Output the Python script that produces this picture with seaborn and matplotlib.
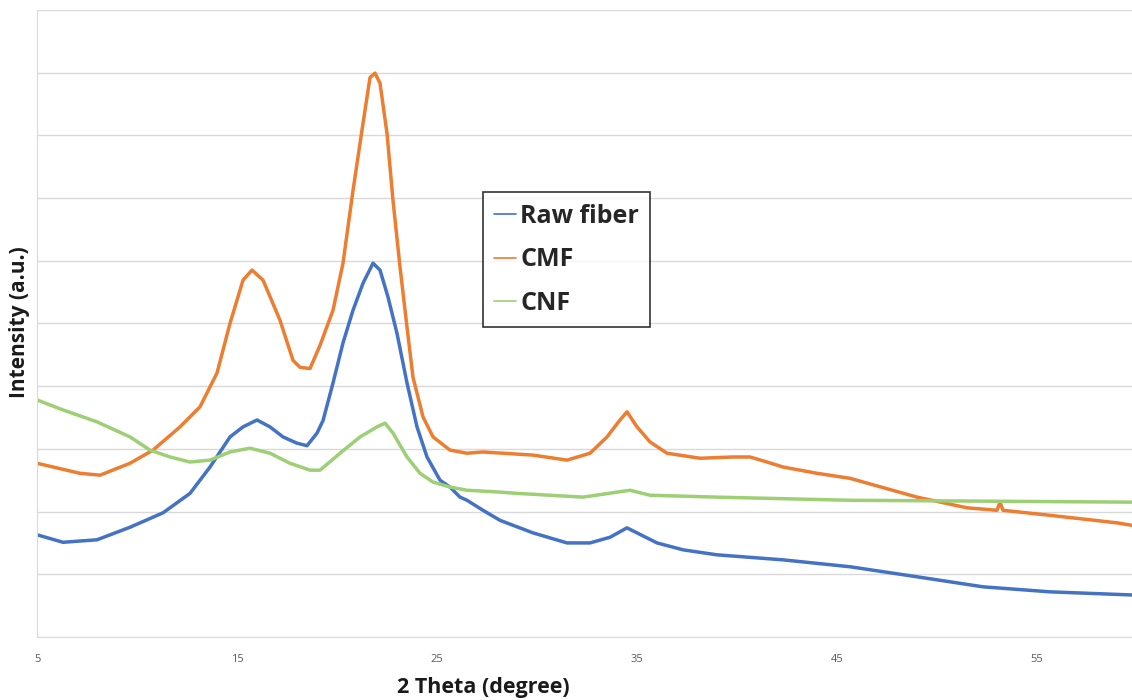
import pandas as pd
import seaborn as sns
import matplotlib.pyplot as plt

# Valores (2 theta en grados, intensidad en unidades arbitrarias)
theta_raw = [5, 6.3, 8, 9.65, 11.3, 12.65, 13.65, 14.65, 15.3, 16, 16.65, 17.3, 18, 18.5, 19,
             19.3, 19.8, 20.3, 20.8, 21.3, 21.8, 22.15, 22.55, 23, 23.5, 24, 24.5, 25.15,
             25.65, 26.15, 26.5, 27.3, 28.15, 29.8, 31.5, 32.65, 33.65, 34.5, 35, 36, 37.3,
             39, 42.3, 45.65, 49, 52.3, 55.65, 59.75]
raw_fiber = [1.63, 1.51, 1.55, 1.75, 1.98, 2.29, 2.71, 3.19, 3.35, 3.46, 3.35, 3.19, 3.09, 3.05, 3.25,
             3.45, 4.05, 4.69, 5.21, 5.64, 5.96, 5.85, 5.42, 4.84, 4.05, 3.35, 2.87, 2.5,
             2.39, 2.23, 2.18, 2.02, 1.86, 1.66, 1.5, 1.5, 1.59, 1.74, 1.66, 1.5, 1.39,
             1.31, 1.23, 1.12, 0.96, 0.8, 0.72, 0.67]

theta_cmf = [5, 7.15, 8.15, 9.65, 10.8, 12.15, 13.15, 14, 14.65, 15.3, 15.75, 16.3, 17.15, 17.8,
             18.15, 18.65, 19.15, 19.8, 20.3, 20.8, 21.3, 21.65, 21.9, 22.15, 22.5, 22.8, 23.15,
             23.5, 23.8, 24.3, 24.8, 25.65, 26.5, 27.3, 29.8, 31.5, 32.65, 33.5, 34.15, 34.5,
             35, 35.65, 36.5, 38.15, 39.8, 40.65, 41.5, 42.3, 44, 45.65, 49, 51.5, 53,
             53.15, 53.3, 55.65, 59, 59.75]
cmf = [2.77, 2.61, 2.58, 2.77, 2.98, 3.35, 3.67, 4.21, 5.0, 5.69, 5.85, 5.69, 5.05, 4.41,
       4.3, 4.28, 4.65, 5.21, 5.96, 7.12, 8.19, 8.92, 8.99, 8.83, 8.03, 6.96, 5.9,
       4.94, 4.14, 3.51, 3.19, 2.98, 2.93, 2.95, 2.9, 2.82, 2.93, 3.19, 3.46, 3.59,
       3.35, 3.11, 2.93, 2.85, 2.87, 2.87, 2.79, 2.71, 2.61, 2.53, 2.23, 2.06, 2.02,
       2.15, 2.02, 1.94, 1.82, 1.78]

theta_cnf = [5, 6.3, 8, 9.65, 10.65, 11.65, 12.65, 13.65, 14.65, 15.65, 16.65, 17.65, 18.65,
             19.15, 20.15, 21.15, 22, 22.4, 22.8, 23.5, 24.15, 24.8, 25.65, 26.5, 28.15, 29,
             32.3, 34.65, 35.65, 39, 45.65, 59.75]
cnf = [3.78, 3.62, 3.43, 3.19, 2.98, 2.87, 2.79, 2.82, 2.95, 3.01, 2.93, 2.77, 2.66,
       2.66, 2.93, 3.19, 3.35, 3.41, 3.25, 2.87, 2.61, 2.47, 2.39, 2.34, 2.31, 2.29,
       2.23, 2.34, 2.26, 2.23, 2.18, 2.15]

muestras = ["Raw fiber", "CMF", "CNF"]
colores = ["#4472C4", "#ED7D31", "#9DCF74"]

df = pd.concat([
    pd.DataFrame({"theta": theta_raw, "intensidad": raw_fiber, "muestra": "Raw fiber"}),
    pd.DataFrame({"theta": theta_cmf, "intensidad": cmf, "muestra": "CMF"}),
    pd.DataFrame({"theta": theta_cnf, "intensidad": cnf, "muestra": "CNF"}),
])

sns.set_style("white")
plt.rcParams["font.family"] = ["Open Sans", "DejaVu Sans"]

fig = plt.figure(figsize=(11.32, 7), dpi=100)
ax = fig.add_axes([0.0327, 0.09, 0.9673, 0.896])

sns.lineplot(data=df, x="theta", y="intensidad", hue="muestra", hue_order=muestras,
             palette=colores, linewidth=2.5, sort=False, ax=ax)

ax.set_xlim(5, 59.75)
ax.set_ylim(0, 10)
ax.set_xticks([5, 15, 25, 35, 45, 55])
ax.set_yticks(range(0, 11))
ax.set_yticklabels([])
ax.tick_params(axis="x", labelsize=8, colors="#595959", length=0, pad=12)
ax.tick_params(axis="y", length=0)
ax.grid(axis="y", color="#D9D9D9", linewidth=1)
ax.grid(axis="x", visible=False)
for lado in ["top", "right"]:
    ax.spines[lado].set_visible(False)
ax.spines["left"].set_color("#D9D9D9")
ax.spines["bottom"].set_color("#D9D9D9")

ax.set_xlabel("2 Theta (degree)", fontsize=15.5, fontweight="bold", color="#1a1a1a")
ax.xaxis.set_label_coords(0.408, -0.064)
ax.set_ylabel("Intensity (a.u.)", fontsize=15, fontweight="bold", color="#1a1a1a")
ax.yaxis.set_label_coords(-0.006, 0.502)

leg = ax.legend(loc="upper left", bbox_to_anchor=(0.407, 0.709), frameon=True, fancybox=False,
                handlelength=0.9, handletextpad=0.15, borderpad=0.45, borderaxespad=0,
                labelspacing=0.75, prop={"size": 18, "weight": "bold"})
leg.get_frame().set_edgecolor("black")
leg.get_frame().set_linewidth(1.2)
for linea in leg.get_lines():
    linea.set_linewidth(1.2)
for texto in leg.get_texts():
    texto.set_color("#262626")

plt.savefig("out.png", dpi=100)
plt.close()
